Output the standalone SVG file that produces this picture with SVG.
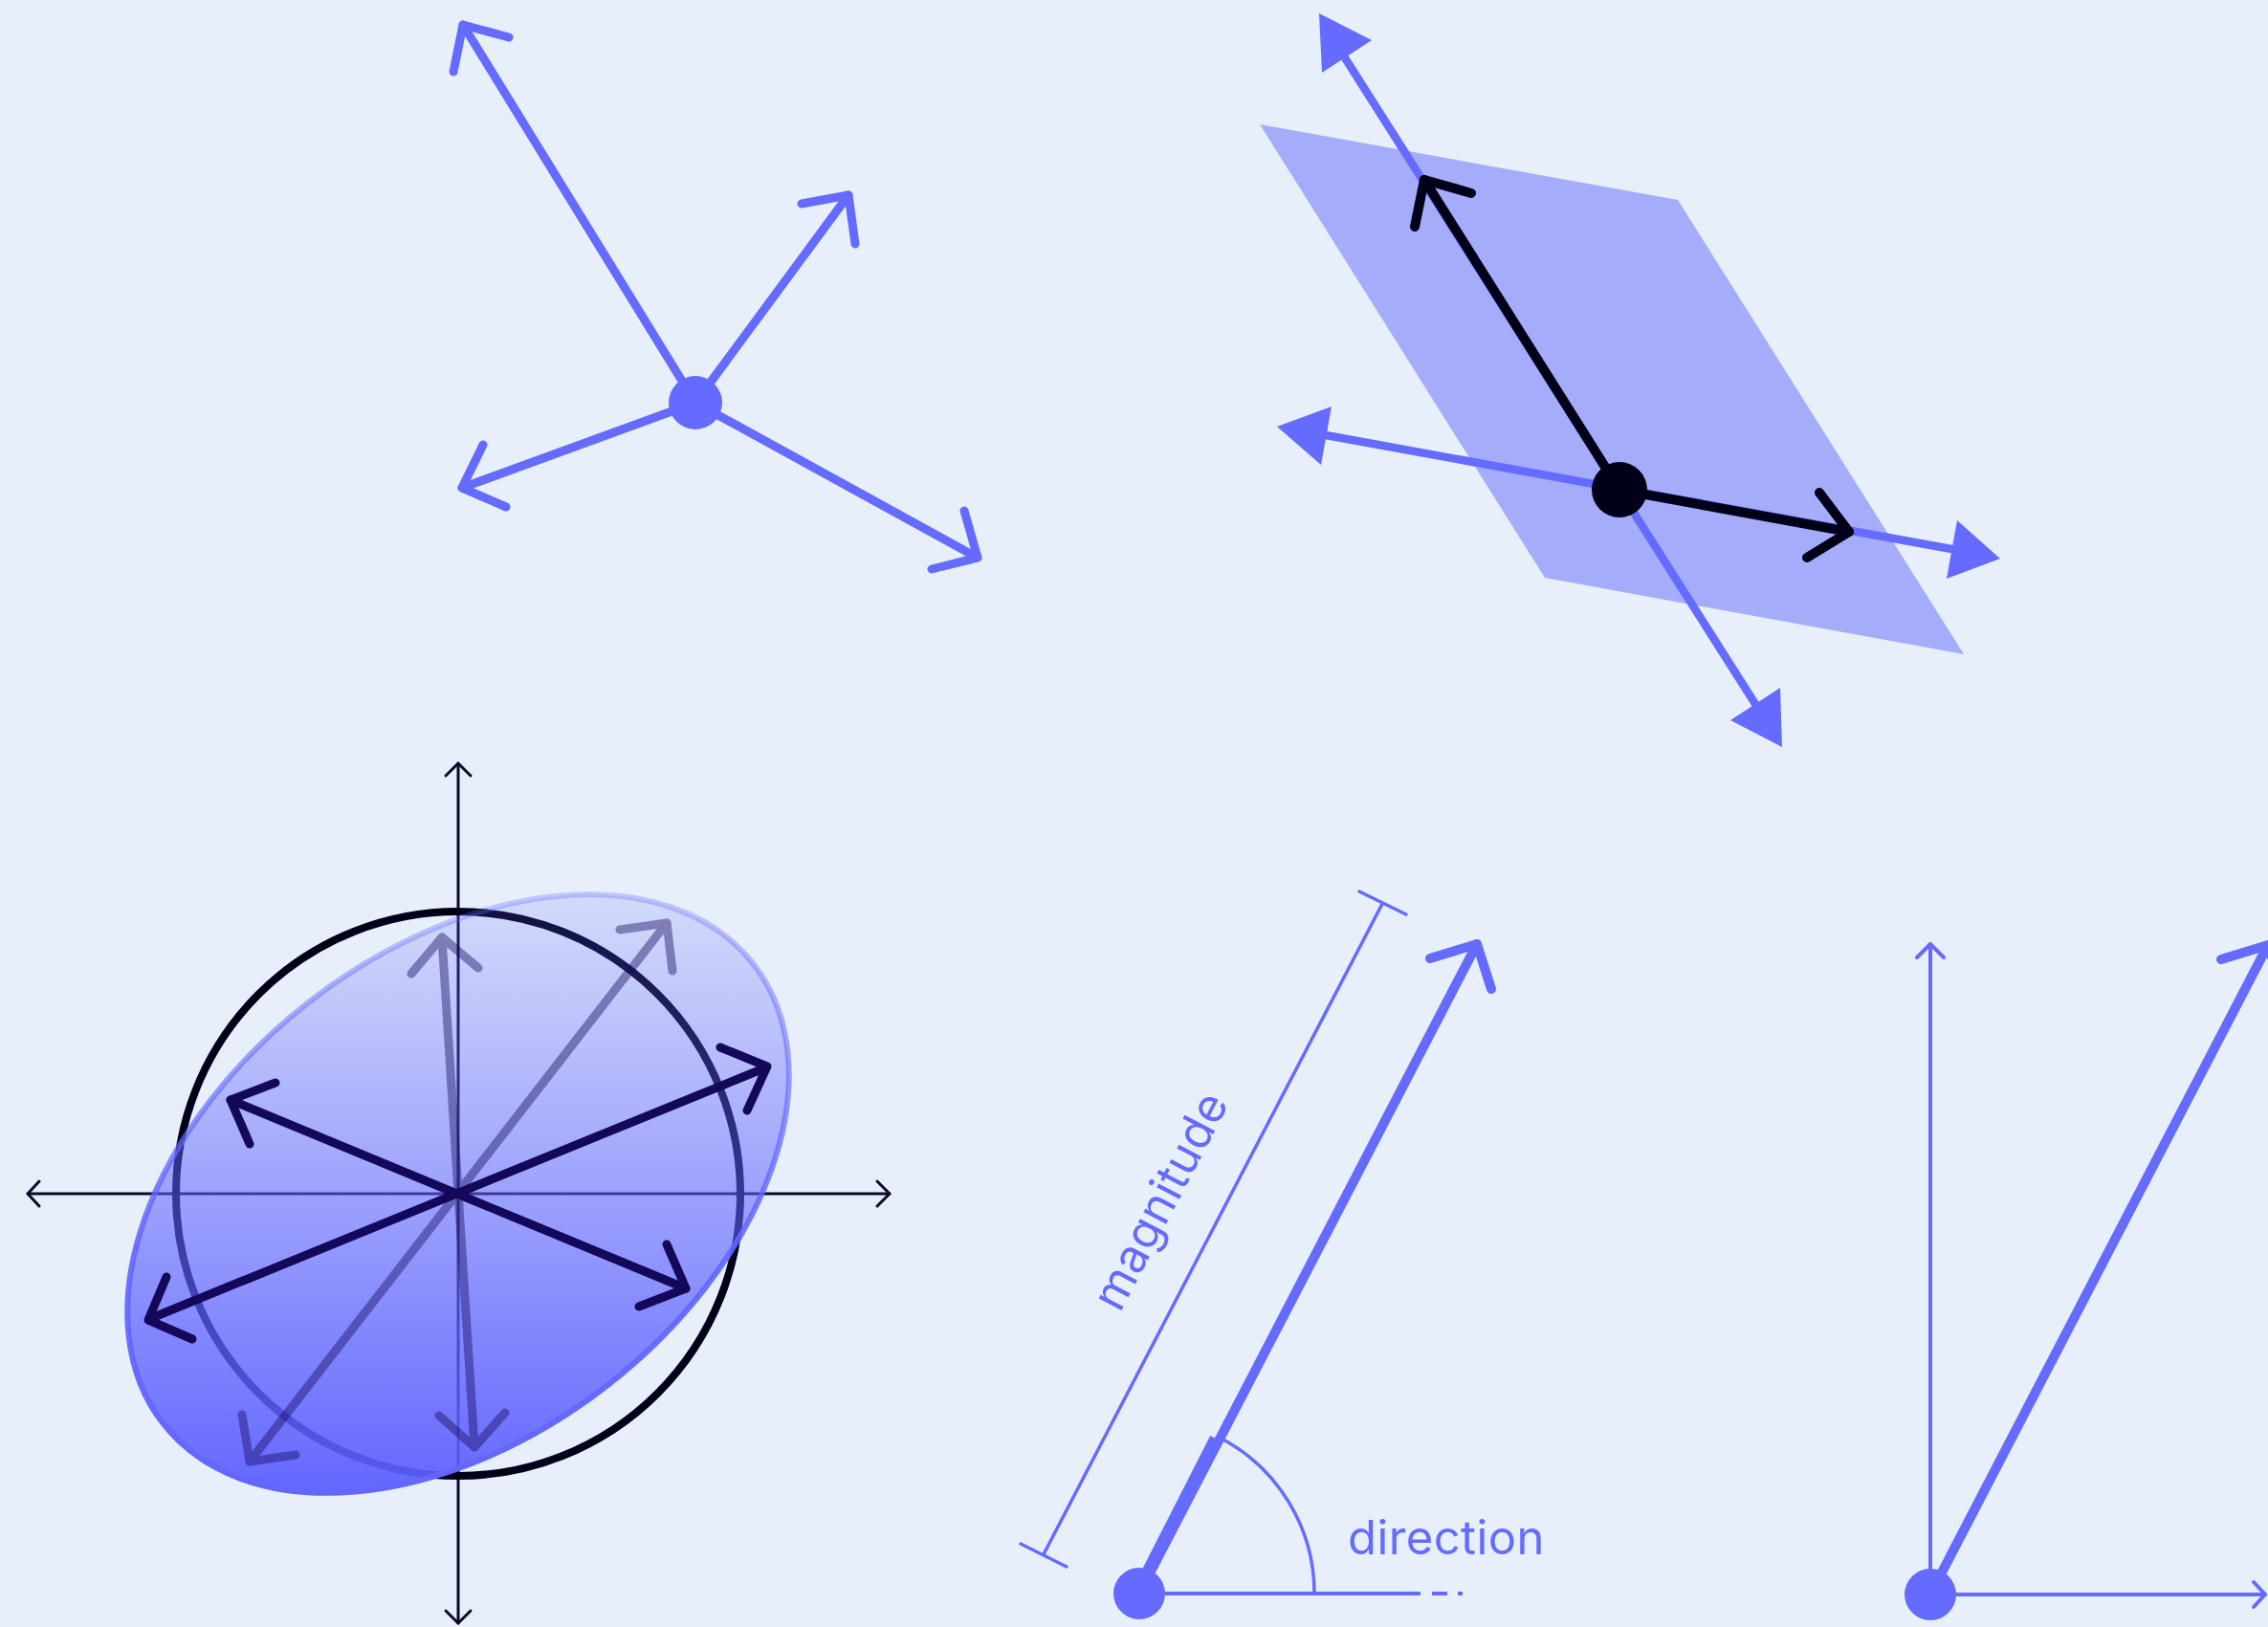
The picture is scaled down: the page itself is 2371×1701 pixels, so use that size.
<svg xmlns="http://www.w3.org/2000/svg" width="2371" height="1701" viewBox="0 0 2371 1701">
  <defs>
    <linearGradient id="blobFill" gradientUnits="userSpaceOnUse" x1="479" y1="934" x2="479" y2="1561" gradientTransform="rotate(37.9 479 1248)">
      <stop offset="0" stop-color="#6366FF" stop-opacity="0.15"/>
      <stop offset="1" stop-color="#5C60FF" stop-opacity="0.95"/>
    </linearGradient>
    <linearGradient id="blobStroke" gradientUnits="userSpaceOnUse" x1="479" y1="934" x2="479" y2="1561" gradientTransform="rotate(37.9 479 1248)">
      <stop offset="0" stop-color="#6366FF" stop-opacity="0.3"/>
      <stop offset="0.6" stop-color="#6366FF" stop-opacity="0.9"/>
      <stop offset="1" stop-color="#6366FF" stop-opacity="1"/>
    </linearGradient>
    <style>
      .blue { stroke: #666BFF; fill: none; stroke-linecap: round; stroke-linejoin: round; }
      .b8 { stroke-width: 9; }
      .b7 { stroke-width: 8.5; }
      .thin { stroke-width: 4; }
      .hair { stroke-width: 3.5; }
      .blk { stroke: #000018; fill: none; stroke-width: 10; stroke-linecap: round; stroke-linejoin: round; }
      .axis { stroke: #0A0A2A; fill: none; stroke-width: 3; stroke-linecap: round; stroke-linejoin: round; }
      .dark { stroke: #14085A; fill: none; stroke-width: 9; stroke-linecap: round; stroke-linejoin: round; }
      .tri { fill: #666BFF; }
      .lbl { font-family: Inter, "Liberation Sans", sans-serif; font-size: 49px; fill: #666BFF; letter-spacing: 0.4px; }
    </style>
  </defs>
  <rect width="2371" height="1701" fill="#E7EFFA"/>

  <!-- Panel 1: point with vectors -->
  <g id="panel-star">
    <g id="star-vectors">
      <line class="blue b8" x1="727" y1="421" x2="484" y2="26"/>
      <polyline class="blue b8" points="474,75 484,26 532,39"/>
      <line class="blue b8" x1="727" y1="421" x2="887" y2="204"/>
      <polyline class="blue b8" points="838,213 887,204 894,255"/>
      <line class="blue b8" x1="727" y1="421" x2="483" y2="510"/>
      <polyline class="blue b8" points="505,465 483,510 529,530"/>
      <line class="blue b8" x1="727" y1="421" x2="1022" y2="583"/>
      <polyline class="blue b8" points="1008,534 1022,583 974,595"/>
    </g>
    <circle id="star-point" cx="727" cy="421" r="28" fill="#666BFF"/>
  </g>

  <!-- Panel 2: plane with vectors -->
  <g id="panel-plane">
    <polygon id="plane" points="1317,130 1754,209 2053,684 1615,604" fill="#A5ACFA"/>
    <g id="plane-axes">
      <line class="blue b7" x1="1405" y1="59" x2="1835" y2="736"/>
      <polygon class="tri" points="1379,14 1434,42 1382,76"/>
      <polygon class="tri" points="1863,781 1861,719 1809,753"/>
      <line class="blue b7" x1="1386" y1="455" x2="2040" y2="574"/>
      <polygon class="tri" points="1335,446 1392,425 1381,486"/>
      <polygon class="tri" points="2091,584 2046,544 2035,605"/>
    </g>
    <g id="plane-vectors">
      <line class="blk" x1="1693" y1="512" x2="1489" y2="188"/>
      <polyline class="blk" points="1479,237 1489,188 1538,202"/>
      <line class="blk" x1="1693" y1="512" x2="1933" y2="556"/>
      <polyline class="blk" points="1902,515 1933,556 1889,583"/>
    </g>
    <circle id="plane-point" cx="1693" cy="512" r="29" fill="#000018"/>
  </g>

  <!-- Panel 3: transformation of circle -->
  <g id="panel-transform">
    <g id="axes">
      <line class="axis" x1="29" y1="1248" x2="930" y2="1248"/>
      <polyline class="axis" points="41,1235 29,1248 41,1261"/>
      <polyline class="axis" points="917,1235 930,1248 917,1261"/>
      <line class="axis" x1="479" y1="798" x2="479" y2="1697"/>
      <polyline class="axis" points="466,811 479,798 492,811"/>
      <polyline class="axis" points="466,1684 479,1697 492,1684"/>
    </g>
    <circle id="unit-circle" cx="479" cy="1248" r="295" fill="none" stroke="#000018" stroke-width="8"/>
    <ellipse id="blob" cx="479" cy="1248" rx="391" ry="254" transform="rotate(-37.9 479 1248)" fill="url(#blobFill)" stroke="url(#blobStroke)" stroke-width="6"/>
    <g id="rotated-vectors" opacity="0.42">
      <line class="dark" x1="261" y1="1528" x2="697" y2="965"/>
      <polyline class="dark" points="648,972 697,965 703,1015"/>
      <polyline class="dark" points="253,1479 261,1528 309,1521"/>
      <line class="dark" x1="462" y1="980" x2="496" y2="1513"/>
      <polyline class="dark" points="430,1018 462,980 500,1012"/>
      <polyline class="dark" points="459,1480 496,1513 528,1477"/>
    </g>
    <g id="eigen-vectors">
      <line class="dark" x1="156" y1="1379" x2="801" y2="1116"/>
      <polyline class="dark" points="753,1095 802,1115 781,1161"/>
      <polyline class="dark" points="174,1335 155,1380 201,1400"/>
      <line class="dark" x1="241" y1="1150" x2="717" y2="1347"/>
      <polyline class="dark" points="288,1132 241,1150 261,1196"/>
      <polyline class="dark" points="697,1301 717,1347 668,1366"/>
    </g>
  </g>

  <!-- Panel 4: magnitude and direction -->
  <g id="panel-magnitude">
    <g id="magnitude-bracket">
      <line class="blue hair" x1="1091" y1="1625" x2="1445" y2="945"/>
      <line class="blue hair" x1="1067" y1="1614" x2="1115" y2="1638"/>
      <line class="blue hair" x1="1421" y1="932" x2="1470" y2="956"/>
    </g>
    <text id="magnitude-label" class="lbl" text-anchor="middle" transform="translate(1228 1263) rotate(-62.5)">magnitude</text>
    <g id="direction-baseline">
      <line x1="1191" y1="1666" x2="1485" y2="1666" stroke="#666BFF" stroke-width="4"/>
      <line x1="1497" y1="1666" x2="1513" y2="1666" stroke="#666BFF" stroke-width="4"/>
      <line x1="1524" y1="1666" x2="1529" y2="1666" stroke="#666BFF" stroke-width="4"/>
    </g>
    <path id="angle-arc" class="blue hair" d="M1374,1666 A183,183 0 0 0 1275,1503"/>
    <text id="direction-label" class="lbl" x="1409" y="1625">direction</text>
    <g id="vector-magnitude">
      <line x1="1189" y1="1665" x2="1271" y2="1504" stroke="#666BFF" stroke-width="13" stroke-linecap="butt"/>
      <line class="blue" stroke-width="10" x1="1191" y1="1666" x2="1544" y2="987"/>
      <polyline class="blue" stroke-width="10" points="1495,1002 1544,987 1559,1034"/>
    </g>
    <circle id="magnitude-point" cx="1191" cy="1666" r="27" fill="#666BFF"/>
  </g>

  <!-- Panel 5: components -->
  <g id="panel-components">
    <g id="component-axes">
      <line class="blue thin" x1="2018" y1="1667" x2="2018" y2="987"/>
      <polyline class="blue thin" points="2004,1001 2018,987 2032,1001"/>
      <line class="blue thin" x1="2018" y1="1667" x2="2368" y2="1667"/>
      <polyline class="blue thin" points="2356,1654 2368,1667 2356,1680"/>
    </g>
    <g id="component-vector">
      <line class="blue" stroke-width="10" x1="2018" y1="1667" x2="2371" y2="988"/>
      <polyline class="blue" stroke-width="10" points="2322,1003 2371,988 2386,1035"/>
    </g>
    <circle id="component-point" cx="2018" cy="1667" r="27" fill="#666BFF"/>
  </g>
</svg>
